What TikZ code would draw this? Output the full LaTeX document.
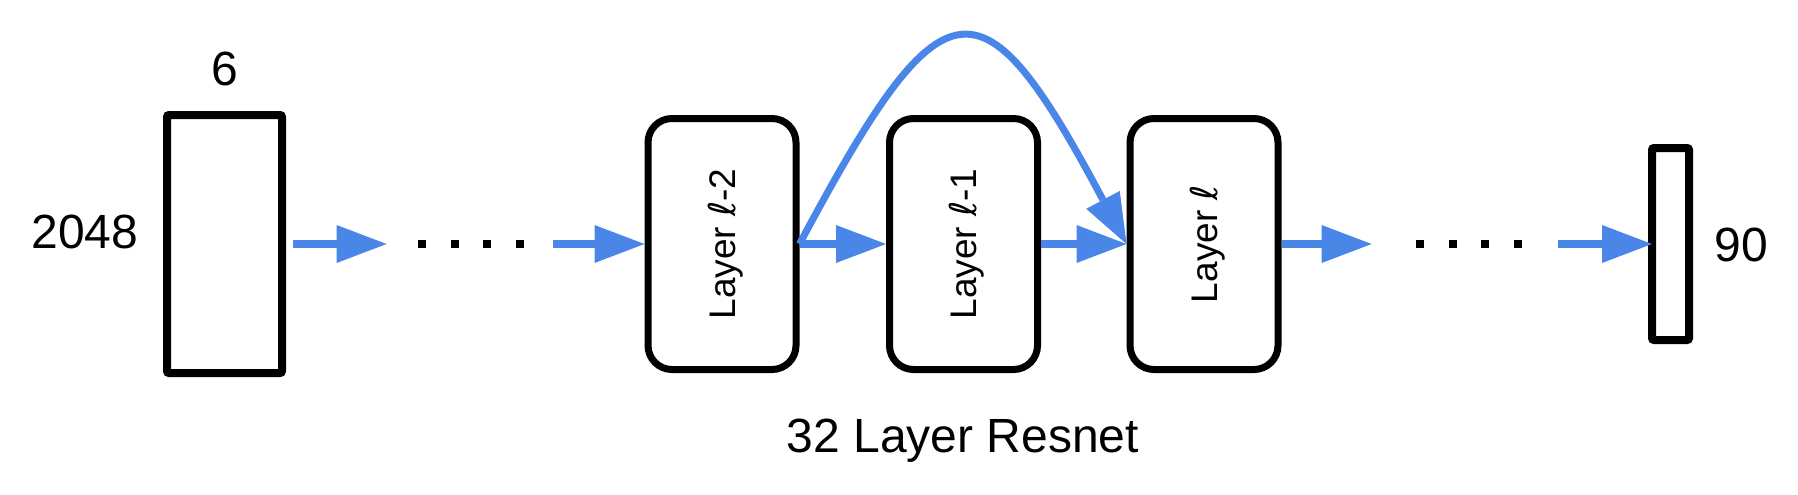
\documentclass[tikz,border=0pt]{standalone}
\usepackage{fontspec}
\setmainfont{Liberation Sans}
\newfontfamily\ellfont{DejaVu Sans}
\usepackage{tikz}
\usetikzlibrary{arrows.meta}
\definecolor{flowblue}{HTML}{4A86E8}
\newcommand{\ellsym}{{\ellfont\itshape ℓ}}
\tikzstyle{tensor}=[draw, line width=4pt, rounded corners=1pt, inner sep=0pt]
\tikzstyle{layerbox}=[draw, line width=3.5pt, rounded corners=12pt, minimum width=74pt, minimum height=125.5pt, inner sep=0pt]
\tikzstyle{layertext}=[rotate=90, font=\fontsize{18.5}{22}\selectfont, text height=13.2pt, text depth=0pt, inner sep=0pt]
\tikzstyle{dimlabel}=[font=\fontsize{24}{28}\selectfont]
\tikzstyle{dotrow}=[minimum width=53pt, minimum height=4pt, inner sep=0pt]
\tikzstyle{arrow}=[color=flowblue, line width=4pt, -{Triangle[length=25pt, width=19pt, line width=0pt]}]

\begin{document}
\begin{tikzpicture}[x=0.5pt, y=-0.5pt]
	\useasboundingbox (0, 0) rectangle (1798, 494);
	\begin{scope}
		\node (inp) at (224.5, 244)[tensor, minimum width=57.5pt, minimum height=129pt] {};
		\node (inw) at (224.5, 69)[dimlabel] {6};
		\node (inh) at (85, 232)[dimlabel] {2048};
		\node (dotsA) at (471, 244)[dotrow] {};
		\node (l2) at (722, 244)[layerbox, label={[layertext]center:Layer \ellsym-2}] {};
		\node (l1) at (963.5, 244)[layerbox, label={[layertext]center:Layer \ellsym-1}] {};
		\node (l0) at (1204, 244)[layerbox, label={[layertext]center:Layer \ellsym}] {};
		\node (dotsB) at (1469, 244)[dotrow] {};
		\node (out) at (1670.5, 244)[tensor, minimum width=18.5pt, minimum height=96pt] {};
		\node (outh) at (1741, 244.5)[dimlabel] {90};
		\node (cap) at (963, 452)[dimlabel, anchor=base] {32 Layer Resnet};
		% dots
		\foreach \d in {-49, -16.3, 16.3, 49} {
			\fill ([xshift=\d*0.5pt]dotsA.center) ++(-2pt, -2pt) rectangle ++(4pt, 4pt);
			\fill ([xshift=\d*0.5pt]dotsB.center) ++(-2pt, -2pt) rectangle ++(4pt, 4pt);
		}
	\end{scope}
	\begin{scope}
		\path [arrow, shorten <=3.5pt, shorten >=15.5pt] (inp) edge (dotsA);
		\path [arrow, shorten <=14.5pt] (dotsA) edge (l2);
		\path [arrow] (l2) edge (l1);
		\path [arrow] (l1) edge (l0);
		\draw [arrow, line width=3.5pt] (l2.east) .. controls +(145, -272) and +(-145, -272) .. (l0.west);
		\path [arrow, shorten >=22pt] (l0) edge (dotsB);
		\path [arrow, shorten <=18pt, shorten >=-2pt] (dotsB) edge (out);
	\end{scope}
\end{tikzpicture}
\end{document}
